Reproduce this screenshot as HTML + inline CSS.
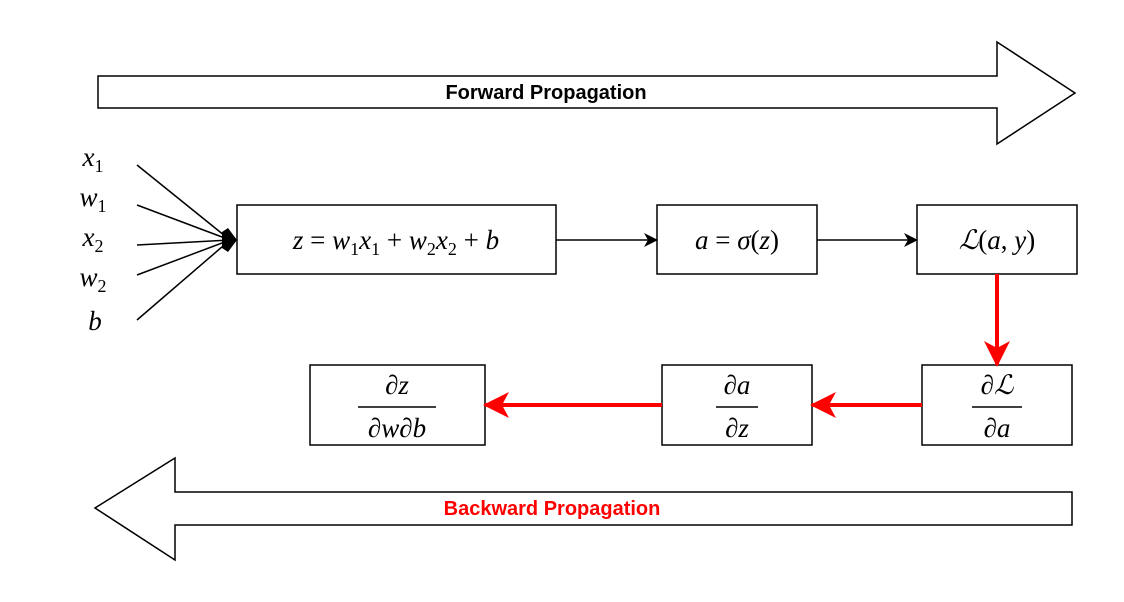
<!DOCTYPE html>
<html><head><meta charset="utf-8"><style>
body{margin:0;background:#fff}
svg{display:block}
.m{font-family:"Liberation Serif","DejaVu Serif",serif;font-size:27px;font-style:italic}
.r{font-style:normal}
.s{font-size:18px;font-style:normal}
</style></head><body>
<svg width="1124" height="602" viewBox="0 0 1124 602">
<defs>
<marker id="ab" markerWidth="14" markerHeight="14" refX="13" refY="7" orient="auto" markerUnits="userSpaceOnUse"><path d="M0,0 L14,7 L0,14 L4,7 Z" fill="#000"/></marker>
<marker id="ar" markerWidth="26" markerHeight="26" refX="24" refY="13" orient="auto" markerUnits="userSpaceOnUse"><path d="M0,0 L26,13 L0,26 L7,13 Z" fill="#f00"/></marker>
</defs>
<g>
<path d="M98,76 H997 V42 L1075,93 L997,144 V108 H98 Z" fill="#fff" stroke="#000" stroke-width="1.5"/>
<text x="546" y="99" text-anchor="middle" font-family="Liberation Sans,sans-serif" font-weight="bold" font-size="20">Forward Propagation</text>
</g>
<g>
<path d="M1072,492 H175 V458 L95,508 L175,560 V525 H1072 Z" fill="#fff" stroke="#000" stroke-width="1.5"/>
<text x="552" y="515" text-anchor="middle" font-family="Liberation Sans,sans-serif" font-weight="bold" font-size="20" fill="#f00">Backward Propagation</text>
</g>
<g class="m" text-anchor="middle">
<text x="93" y="166">x<tspan class="s" dy="6">1</tspan></text>
<text x="93" y="206">w<tspan class="s" dy="6">1</tspan></text>
<text x="93" y="246">x<tspan class="s" dy="6">2</tspan></text>
<text x="93" y="286">w<tspan class="s" dy="6">2</tspan></text>
<text x="95" y="330">b</text>
</g>
<g stroke="#000" stroke-width="1.5">
<line x1="137" y1="165" x2="230" y2="240"/><line x1="137" y1="205" x2="230" y2="240"/><line x1="137" y1="245" x2="230" y2="240"/><line x1="137" y1="275" x2="230" y2="240"/><line x1="137" y1="320" x2="230" y2="240"/>
</g>
<path d="M222,232 L228,228 L237,240 L228,252 L222,248 Z" fill="#000"/>
<g fill="#fff" stroke="#000" stroke-width="1.5">
<rect x="237" y="205" width="319" height="69"/>
<rect x="657" y="205" width="160" height="69"/>
<rect x="917" y="205" width="160" height="69"/>
<rect x="922" y="365" width="150" height="80"/>
<rect x="662" y="365" width="150" height="80"/>
<rect x="310" y="365" width="175" height="80"/>
</g>
<g class="m" text-anchor="middle">
<text x="396" y="249">z <tspan class="r">=</tspan> w<tspan class="s" dy="6">1</tspan><tspan dy="-6">x</tspan><tspan class="s" dy="6">1</tspan><tspan class="r" dy="-6"> + </tspan>w<tspan class="s" dy="6">2</tspan><tspan dy="-6">x</tspan><tspan class="s" dy="6">2</tspan><tspan class="r" dy="-6"> + </tspan>b</text>
<text x="737" y="249">a <tspan class="r">=</tspan> σ<tspan class="r">(</tspan>z<tspan class="r">)</tspan></text>
<text x="997" y="249">ℒ<tspan class="r">(</tspan>a<tspan class="r">, </tspan>y<tspan class="r">)</tspan></text>
<text x="997" y="394">∂ℒ</text><text x="997" y="437">∂a</text>
<text x="737" y="394">∂a</text><text x="737" y="437">∂z</text>
<text x="397" y="394">∂z</text><text x="397" y="437">∂w∂b</text>
</g>
<g stroke="#000" stroke-width="1.5">
<line x1="972" y1="407" x2="1022" y2="407"/><line x1="716" y1="407" x2="758" y2="407"/><line x1="358" y1="407" x2="436" y2="407"/>
</g>
<g stroke="#000" stroke-width="1.5" marker-end="url(#ab)">
<line x1="556" y1="240" x2="657" y2="240"/><line x1="817" y1="240" x2="917" y2="240"/>
</g>
<g stroke="#f00" stroke-width="4" marker-end="url(#ar)">
<line x1="997" y1="274" x2="997" y2="365"/><line x1="922" y1="405" x2="812" y2="405"/><line x1="662" y1="405" x2="485" y2="405"/>
</g>
</svg>
</body></html>
